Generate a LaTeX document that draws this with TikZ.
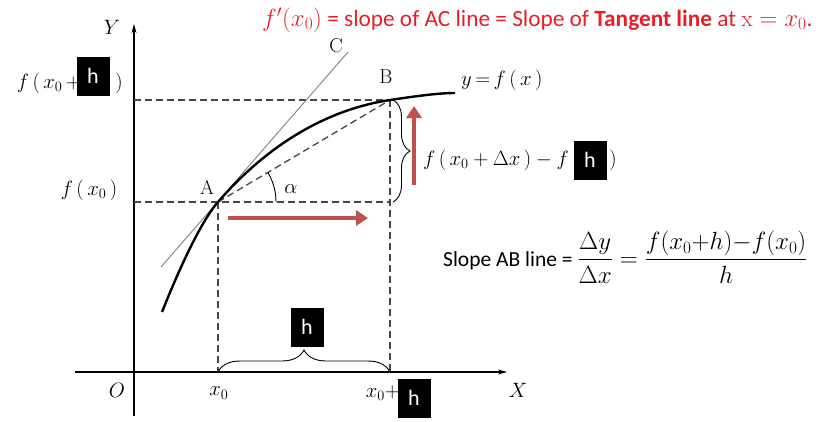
\documentclass[tikz,border=0pt]{standalone}
\usepackage{amsmath}
\usepackage{fontspec}
\newfontfamily\calib{Carlito}
\usetikzlibrary{arrows.meta,decorations.pathreplacing}
\definecolor{titlered}{RGB}{232,30,40}
\definecolor{arrowred}{RGB}{192,80,77}
\definecolor{dashgray}{RGB}{70,70,70}
\begin{document}
\begin{tikzpicture}[x=1pt,y=-1pt,
  axis/.style={line width=1.1pt,-{Stealth[length=9pt,width=5pt]}},
  guide/.style={dashgray,line width=1.3pt,dash pattern=on 7pt off 4pt},
  curve/.style={line width=2.4pt},
  tangent/.style={gray,line width=0.9pt},
  redarrow/.style={arrowred,line width=4.5pt,-{Triangle[length=12pt,width=15pt]}},
  lbl/.style={inner sep=0pt,font=\fontsize{20}{22}\selectfont},
  hbox/.style={fill=black,text=white,minimum width=33pt,minimum height=39pt,inner sep=0pt,font=\calib\fontsize{22}{24}\selectfont},
  bracesty/.style={line width=0.9pt,decorate,decoration={brace,amplitude=#1}}
]
\useasboundingbox (0,0) rectangle (822,421);
% key points
\coordinate (A) at (218,202);
\coordinate (B) at (390,100);
\coordinate (Yb) at (134,416);
\coordinate (Yt) at (134,24);
\coordinate (Xl) at (75,372);
\coordinate (Xr) at (507,372);
\coordinate (yA) at (134,202);
\coordinate (yB) at (134,100);
\coordinate (xA) at (218,372);
\coordinate (xB) at (390,372);
\coordinate (T1) at (161,267);
\coordinate (T2) at (348,52);
\coordinate (C0) at (162,312);
\coordinate (C3) at (455,93);
% axes
\draw[axis] (Xl) -- (Xr);
\draw[axis] (Yb) -- (Yt);
% guides
\draw[guide] (yB) -- (B);
\draw[guide] (yA) -- (A) -- (390,202);
\draw[guide] (A) -- (xA);
\draw[guide] (B) -- (xB);
\draw[guide] (A) -- (B);
% tangent
\draw[tangent] (T1) -- (T2);
% curve
\draw[curve] (C0) .. controls (174,282) and (198,225) .. (A)
  .. controls (270,142) and (330,109) .. (B)
  .. controls (420,95.5) and (440,93) .. (C3);
% angle alpha
\draw[line width=0.9pt] (276,202) arc[start angle=0,end angle=-30.7,radius=58];
% braces
\draw[bracesty=22pt] (xA) -- (xB);
\draw[bracesty=17pt] (393,100) -- (393,202);
% red arrows
\coordinate (ra1) at (228,218);
\coordinate (ra2) at (368,218);
\coordinate (rb1) at (414,185);
\coordinate (rb2) at (414,106);
\draw[redarrow] (ra1) -- (ra2);
\draw[redarrow] (rb1) -- (rb2);
% labels
\node[lbl] (lY) at (112,27) {$Y$};
\node[lbl] (lO) at (117,390) {$O$};
\node[lbl] (lx0) at (219,393) {$x_0$};
\node[lbl,anchor=east] (lx0h) at (400,393) {$x_0 +$};
\node[hbox] (h3) at (414,398) {h};
\node[lbl] (lX) at (518,390) {$X$};
\node[hbox] (h2) at (307,327) {h};
\node[lbl] (lA) at (207,187) {A};
\node[lbl] (lB) at (386,77) {B};
\node[lbl] (lC) at (336,46) {C};
\node[lbl] (lal) at (291,189) {$\alpha$};
\node[lbl,anchor=west] (lyf) at (461,80) {$y\,{=}\,f\,(\,x\,)$};
\node[lbl,anchor=west] (ldiff) at (423,160) {$f\,(\,x_0+\Delta x\,)-f$};
\node[hbox] (h4) at (590,160) {h};
\node[lbl] (ldiffp) at (613,160) {$)$};
\node[lbl] (lfx0) at (89,190) {$f\,(\,x_0\,)$};
\node[lbl,anchor=east] (lfxh) at (81,83) {$f\,(\,x_0\,+$};
\node[hbox] (h1) at (93,76) {h};
\node[lbl] (lfxhp) at (119,83) {$)$};
% title
\node[anchor=west,inner sep=0pt,text=titlered,font=\calib\fontsize{23.3}{26}\selectfont] (title) at (262,20)
  {$f'(x_0)$ = slope of AC line = Slope of \textbf{Tangent line} at $\mathrm{x} = x_0$.};
% slope formula
\node[anchor=west,inner sep=0pt,font=\calib\fontsize{21.5}{24}\selectfont] (slope) at (443,257)
  {Slope AB line = {\fontsize{26.5}{29}\selectfont$\dfrac{\Delta y}{\Delta x} = \dfrac{f(x_0{+}h){-}f(x_0)}{h}$}};
\end{tikzpicture}
\end{document}
